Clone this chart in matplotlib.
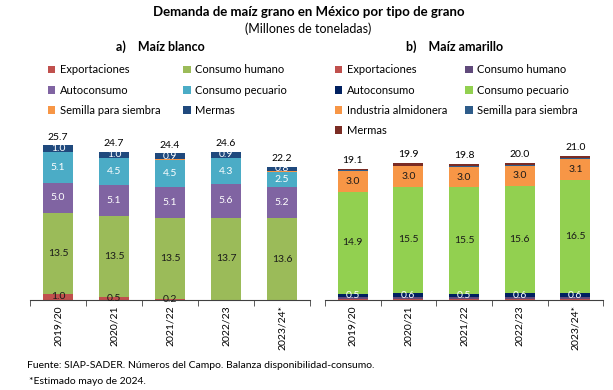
import matplotlib.pyplot as plt
import numpy as np

plt.rcParams['font.family'] = ['Lato', 'DejaVu Sans']

years = ['2019/20', '2020/21', '2021/22', '2022/23', '2023/24*']

# Maiz blanco (millones de toneladas)
blanco_series = ['Exportaciones', 'Consumo humano', 'Autoconsumo',
                 'Consumo pecuario', 'Semilla para siembra', 'Mermas']
bl_export = [1.0, 0.5, 0.2, 0.0, 0.0]
bl_humano = [13.5, 13.5, 13.5, 13.7, 13.6]
bl_auto = [5.0, 5.1, 5.1, 5.6, 5.2]
bl_pecuario = [5.1, 4.5, 4.5, 4.3, 2.5]
bl_semilla = [0.1, 0.1, 0.2, 0.1, 0.1]
bl_mermas = [1.0, 1.0, 0.9, 0.9, 0.8]
bl_total = [25.7, 24.7, 24.4, 24.6, 22.2]

# Maiz amarillo
amarillo_series = ['Exportaciones', 'Consumo humano', 'Autoconsumo', 'Consumo pecuario',
                   'Industria almidonera', 'Semilla para siembra', 'Mermas']
am_export = [0.1, 0.1, 0.1, 0.1, 0.1]
am_humano = [0.3, 0.3, 0.3, 0.3, 0.3]
am_auto = [0.5, 0.6, 0.5, 0.6, 0.6]
am_pecuario = [14.9, 15.5, 15.5, 15.6, 16.5]
am_almidon = [3.0, 3.0, 3.0, 3.0, 3.1]
am_semilla = [0.1, 0.1, 0.1, 0.1, 0.1]
am_mermas = [0.2, 0.3, 0.3, 0.3, 0.3]
am_total = [19.1, 19.9, 19.8, 20.0, 21.0]

bl_colors = ['#C0504D', '#9BBB59', '#8064A2', '#4BACC6', '#F79646', '#1F497D']
am_colors = ['#C0504D', '#604A7B', '#002060', '#92D050', '#F79646', '#2E5C8A', '#7B2C24']

fig = plt.figure(figsize=(6.13, 3.9), dpi=100)

fig.text(0.503, 0.968, 'Demanda de maíz grano en México por tipo de grano',
         ha='center', va='center', fontsize=9.5, fontweight='bold')
fig.text(0.503, 0.926, '(Millones de toneladas)', ha='center', va='center', fontsize=9)
fig.text(0.19, 0.88, 'a)    Maíz blanco', ha='left', va='center', fontsize=9, fontweight='bold')
fig.text(0.662, 0.88, 'b)    Maíz amarillo', ha='left', va='center', fontsize=9, fontweight='bold')


def draw_panel(ax, series_names, data, colors, labels_on, label_colors, totals, ytop):
    x = np.arange(len(years))
    bottom = np.zeros(len(years))
    handles = []
    for name, vals, col, show, lc in zip(series_names, data, colors, labels_on, label_colors):
        vals = np.array(vals)
        b = ax.bar(x, vals, 0.54, bottom=bottom, color=col, label=name)
        handles.append(b)
        if show:
            for xi, v, bt in zip(x, vals, bottom):
                if v > 0:
                    ax.text(xi, bt + v / 2, f'{v:.1f}', ha='center', va='center',
                            fontsize=7.5, color=lc)
        bottom = bottom + vals
    for xi, t, bt in zip(x, totals, bottom):
        ax.text(xi, bt + 0.6, f'{t:.1f}', ha='center', va='bottom', fontsize=7.5)
    ax.set_xlim(-0.5, len(years) - 0.5)
    ax.set_ylim(0, ytop)
    ax.set_yticks([])
    for s in ['top', 'right', 'left']:
        ax.spines[s].set_visible(False)
    ax.spines['bottom'].set_color('#404040')
    ax.spines['bottom'].set_linewidth(0.8)
    ax.set_xticks(x)
    ax.set_xticklabels(years, rotation=90, fontsize=7.5)
    ax.tick_params(axis='x', which='major', length=0, pad=4)
    ax.set_xticks(np.arange(-0.5, len(years)), minor=True)
    ax.tick_params(axis='x', which='minor', length=4, color='#404040', direction='out')
    return handles


ax1 = fig.add_axes([0.049, 0.231, 0.457, 0.436])
h1 = draw_panel(ax1, blanco_series,
                [bl_export, bl_humano, bl_auto, bl_pecuario, bl_semilla, bl_mermas],
                bl_colors,
                [True, True, True, True, False, True],
                ['#1a1a1a', '#1a1a1a', 'white', 'white', 'white', 'white'],
                bl_total, 28.3)
# legend filled row by row like the original
order1 = [0, 2, 4, 1, 3, 5]
ax1.legend([h1[i] for i in order1], [blanco_series[i] for i in order1],
           loc='upper left', bbox_to_anchor=(0.063, 1.385), ncol=2, frameon=False,
           fontsize=8, handlelength=0.7, handleheight=0.7, columnspacing=2.0,
           labelspacing=0.82, handletextpad=0.4, borderaxespad=0, borderpad=0)

ax2 = fig.add_axes([0.530, 0.231, 0.454, 0.436])
h2 = draw_panel(ax2, amarillo_series,
                [am_export, am_humano, am_auto, am_pecuario, am_almidon, am_semilla, am_mermas],
                am_colors,
                [False, False, True, True, True, False, False],
                ['white', 'white', 'white', '#1a1a1a', '#1a1a1a', 'white', 'white'],
                am_total, 24.8)
order2 = [0, 2, 4, 6, 1, 3, 5]
ax2.legend([h2[i] for i in order2], [amarillo_series[i] for i in order2],
           loc='upper left', bbox_to_anchor=(0.035, 1.385), ncol=2, frameon=False,
           fontsize=8, handlelength=0.7, handleheight=0.7, columnspacing=1.6,
           labelspacing=0.82, handletextpad=0.4, borderaxespad=0, borderpad=0)

fig.text(0.044, 0.062, 'Fuente: SIAP-SADER. Números del Campo. Balanza disponibilidad-consumo.',
         ha='left', va='center', fontsize=7.5)
fig.text(0.047, 0.022, '*Estimado mayo de 2024.', ha='left', va='center', fontsize=7.5)

fig.savefig('out.png', dpi=100)
